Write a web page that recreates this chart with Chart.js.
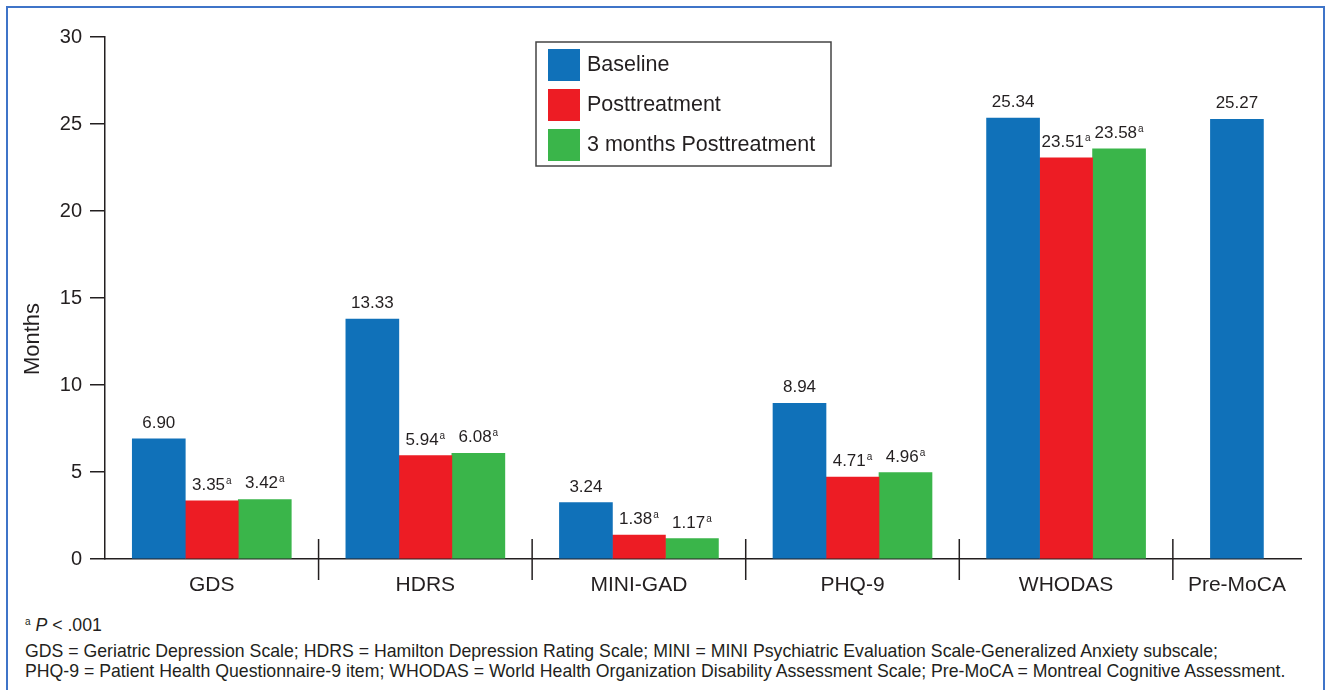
<!DOCTYPE html>
<html>
<head>
<meta charset="utf-8">
<script src="https://cdn.jsdelivr.net/npm/chart.js@4.4.1/dist/chart.umd.min.js"></script>
<style>
  body { margin: 0; background: #fff; font-family: "Liberation Sans", Arial, sans-serif; color: #231f20; }
  #frame { position: absolute; left: 6px; top: 6px; width: 1315px; height: 700px; border: 2px solid #3f74c8; border-bottom: none; }
  #wrap { position: absolute; left: 0; top: 0; width: 1329px; height: 600px; }
  .note { position: absolute; left: 25px; font-size: 17.7px; line-height: 20px; white-space: nowrap; }
  .note sup { font-size: 10px; vertical-align: 6px; line-height: 0; }
</style>
</head>
<body>
<div id="frame"></div>
<div id="wrap"><canvas id="scoresChart"></canvas></div>
<div class="note" style="top:615px"><sup>a</sup> <i>P</i> &lt; .001</div>
<div class="note" style="top:641px">GDS = Geriatric Depression Scale; HDRS = Hamilton Depression Rating Scale; MINI = MINI Psychiatric Evaluation Scale-Generalized Anxiety subscale;</div>
<div class="note" style="top:661px">PHQ-9 = Patient Health Questionnaire-9 item; WHODAS = World Health Organization Disability Assessment Scale; Pre-MoCA = Montreal Cognitive Assessment.</div>
<script>
// chart data
const categories = ['GDS', 'HDRS', 'MINI-GAD', 'PHQ-9', 'WHODAS', 'Pre-MoCA'];
const seriesNames = ['Baseline', 'Posttreatment', '3 months Posttreatment'];
// bar heights as drawn
const baseline = [6.90, 13.79, 3.24, 8.94, 25.34, 25.27];
const posttreatment = [3.35, 5.94, 1.38, 4.71, 23.06, null];
const threeMonths = [3.42, 6.08, 1.17, 4.96, 23.58, null];
// numbers printed above the bars
const baselineText = ['6.90', '13.33', '3.24', '8.94', '25.34', '25.27'];
const postText = ['3.35', '5.94', '1.38', '4.71', '23.51', null];
const threeText = ['3.42', '6.08', '1.17', '4.96', '23.58', null];
const sigMarks = ['', 'a', 'a'];
const yTicks = [0, 5, 10, 15, 20, 25, 30];

const FONT = '"Liberation Sans", Arial, sans-serif';
const INK = '#231f20';
const colors = ['#1071b9', '#ed1c24', '#3ab54a'];

// x axis is cut short after the last group, so the last group sits in the middle of what is left
const xMin = -0.5, xMax = 5.1;
const groupPos = categories.map((c, i) => i === categories.length - 1 ? ((i - 0.5) + xMax) / 2 : i);

const allValues = [baseline, posttreatment, threeMonths];
const allText = [baselineText, postText, threeText];

const datasets = allValues.map((vals, s) => ({
    label: seriesNames[s],
    data: vals.map((v, i) => ({ x: groupPos[i], y: v })),
    backgroundColor: colors[s],
    borderWidth: 0,
    barThickness: 53,
    skipNull: true
}));

// group separators crossing the x axis, plus the y title (sits below the axis middle)
const separatorPlugin = {
    id: 'separators',
    afterDraw(chart) {
        const ctx = chart.ctx, xs = chart.scales.x, bottom = chart.chartArea.bottom;
        ctx.save();
        ctx.strokeStyle = INK;
        ctx.lineWidth = 1.5;
        for (let k = 0; k < categories.length - 1; k++) {
            const x = xs.getPixelForValue(k + 0.5);
            ctx.beginPath();
            ctx.moveTo(x, bottom - 20);
            ctx.lineTo(x, bottom + 21);
            ctx.stroke();
        }
        ctx.translate(33, 339);
        ctx.rotate(-Math.PI / 2);
        ctx.fillStyle = INK;
        ctx.font = '22px ' + FONT;
        ctx.textAlign = 'center';
        ctx.textBaseline = 'middle';
        ctx.fillText('Months', 0, 0);
        ctx.restore();
    }
};

// value labels above bars, with the superscript significance mark
const valueLabelPlugin = {
    id: 'valueLabels',
    afterDatasetsDraw(chart) {
        const ctx = chart.ctx;
        ctx.save();
        ctx.fillStyle = INK;
        ctx.textAlign = 'left';
        ctx.textBaseline = 'alphabetic';
        chart.data.datasets.forEach((ds, s) => {
            chart.getDatasetMeta(s).data.forEach((bar, i) => {
                const txt = allText[s][i];
                if (!txt || allValues[s][i] == null) return;
                ctx.font = '17px ' + FONT;
                const w1 = ctx.measureText(txt).width;
                ctx.font = '10px ' + FONT;
                const w2 = sigMarks[s] ? ctx.measureText(sigMarks[s]).width + 1 : 0;
                const x0 = bar.x - (w1 + w2) / 2;
                const y = bar.y - 11;
                ctx.font = '17px ' + FONT;
                ctx.fillText(txt, x0, y);
                if (sigMarks[s]) {
                    ctx.font = '10px ' + FONT;
                    ctx.fillText(sigMarks[s], x0 + w1 + 1, y - 6);
                }
            });
        });
        ctx.restore();
    }
};

// boxed legend floating inside the plot
const boxLegendPlugin = {
    id: 'boxLegend',
    afterDraw(chart) {
        const ctx = chart.ctx;
        const bx = 536, by = 42, bw = 295, bh = 124;
        ctx.save();
        ctx.fillStyle = '#fff';
        ctx.fillRect(bx, by, bw, bh);
        ctx.strokeStyle = '#444';
        ctx.lineWidth = 1.5;
        ctx.strokeRect(bx, by, bw, bh);
        ctx.font = '21.5px ' + FONT;
        ctx.textBaseline = 'middle';
        ctx.textAlign = 'left';
        chart.data.datasets.forEach((ds, s) => {
            const top = by + 7 + s * 40;
            ctx.fillStyle = ds.backgroundColor;
            ctx.fillRect(bx + 12, top, 32, 32);
            ctx.fillStyle = INK;
            ctx.fillText(ds.label, bx + 51, top + 16);
        });
        ctx.restore();
    }
};

const ctx = document.getElementById('scoresChart').getContext('2d');
const scoresChart = new Chart(ctx, {
    type: 'bar',
    data: { datasets: datasets },
    options: {
        responsive: true,
        maintainAspectRatio: false,
        animation: false,
        layout: { padding: { top: 37, right: 28, left: 0, bottom: 0 } },
        plugins: { legend: { display: false }, tooltip: { enabled: false } },
        scales: {
            x: {
                type: 'linear',
                min: xMin,
                max: xMax,
                offset: false,
                grid: { display: false, drawTicks: false },
                border: { display: true, color: INK, width: 1.5 },
                afterBuildTicks(scale) {
                    scale.ticks = groupPos.map(v => ({ value: v }));
                },
                afterFit(scale) { scale.height = 41; },
                ticks: {
                    autoSkip: false,
                    maxRotation: 0,
                    padding: 14,
                    color: INK,
                    font: { family: FONT, size: 21 },
                    callback: (v, i) => categories[i]
                }
            },
            y: {
                min: 0,
                max: 30,
                grid: { drawOnChartArea: false, drawTicks: true, tickLength: 15, color: INK, lineWidth: 1.5 },
                border: { display: true, color: INK, width: 1.5 },
                afterBuildTicks(scale) {
                    scale.ticks = yTicks.map(v => ({ value: v }));
                },
                afterFit(scale) { scale.width = 105; },
                ticks: {
                    padding: 8,
                    color: INK,
                    font: { family: FONT, size: 20 }
                }
            }
        }
    },
    plugins: [separatorPlugin, valueLabelPlugin, boxLegendPlugin]
});
</script>
</body>
</html>
